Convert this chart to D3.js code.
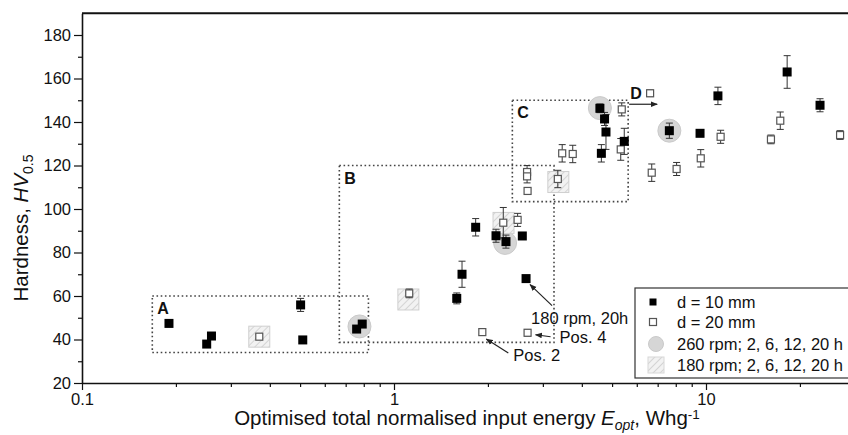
<!DOCTYPE html>
<html><head><meta charset="utf-8">
<script src="https://cdn.jsdelivr.net/npm/d3@7"></script>
<style>
html,body{margin:0;padding:0;background:#fff;overflow:hidden;}
svg{display:block;font-family:"Liberation Sans",Arial,sans-serif;}
</style></head>
<body>
<svg id="chart" width="848" height="435"></svg>
<script>
// ---- data ----
const d10X   = [0.19, 0.251, 0.26, 0.502, 0.51, 0.759, 0.791, 1.589, 1.652, 1.827, 2.123, 2.285, 2.578, 2.65, 4.57, 4.73, 4.78, 4.62, 5.47, 7.63, 9.57, 10.92, 18.2, 23.2];
const d10Y   = [47.4, 37.9, 41.6, 55.9, 39.8, 44.8, 47.1, 58.9, 70.0, 91.6, 87.7, 85.0, 87.6, 68.0, 146.3, 141.4, 135.4, 125.6, 131.1, 136.0, 134.8, 152.0, 163.0, 147.7];
const d10Err = [1.5, 0, 0, 3, 0, 0, 0, 2.5, 6, 4, 3, 3, 0, 0, 2, 3, 8, 4, 6, 3.5, 0, 4, 7.5, 3];

const d20X   = [0.370, 1.119, 1.919, 2.68, 2.24, 2.49, 2.67, 2.67, 2.68, 3.35, 3.46, 3.74, 5.37, 5.33, 6.62, 6.70, 8.05, 9.62, 11.14, 16.15, 17.3, 26.9];
const d20Y   = [41.3, 61.2, 43.4, 43.1, 93.7, 95.0, 117.0, 115.0, 108.3, 113.8, 125.6, 125.3, 145.8, 127.4, 153.2, 116.7, 118.4, 123.3, 133.2, 132.0, 140.6, 134.0];
const d20Err = [1, 2, 1.5, 1.5, 7, 3, 3, 3, 0, 4, 4, 4, 3, 5, 1.5, 4, 3, 4, 3, 2, 4, 2];

const rpm260X = [0.775, 2.27, 4.57, 7.63];
const rpm260Y = [46, 84.4, 146.4, 136];
const rpm180X = [0.370, 1.112, 2.244, 3.363];
const rpm180Y = [41.3, 58.4, 93.6, 112.4];

const regionNames = ["A", "B", "C"];
const regionX0 = [0.168, 0.668, 2.395];
const regionX1 = [0.828, 3.257, 5.63];
const regionY0 = [34, 38.7, 103.4];
const regionY1 = [60, 120, 150];

const xMajor = [0.1, 1, 10];
const xMajorLabels = ["0.1", "1", "10"];
const yMajor = [20, 40, 60, 80, 100, 120, 140, 160, 180];
const legendLabels = ["d = 10 mm", "d = 20 mm", "260 rpm; 2, 6, 12, 20 h", "180 rpm; 2, 6, 12, 20 h"];

// ---- layout ----
const svg = d3.select("#chart");
const L = 82, B = 383;
const x = d3.scaleLog().domain([0.1, 100]).range([L, L + 3 * 312]);
const y = d3.scaleLinear().domain([20, 190]).range([B, B - 170 * 2.175]);
const T = y(190);

const defs = svg.append("defs");
const pat = defs.append("pattern").attr("id", "hatch").attr("patternUnits", "userSpaceOnUse")
  .attr("width", 5).attr("height", 5).attr("patternTransform", "rotate(45)");
pat.append("rect").attr("width", 5).attr("height", 5).attr("fill", "#f2f2f2");
pat.append("line").attr("x1", 0).attr("y1", 0).attr("x2", 0).attr("y2", 5).attr("stroke", "#c4c4c4").attr("stroke-width", 1.3);
defs.append("marker").attr("id", "arr").attr("viewBox", "0 0 10 10").attr("refX", 9).attr("refY", 5)
  .attr("markerWidth", 7).attr("markerHeight", 7).attr("orient", "auto-start-reverse").attr("markerUnits", "userSpaceOnUse")
  .append("path").attr("d", "M0,1 L10,5 L0,9 Z").attr("fill", "#222");

// regions
const g = svg.append("g");
regionNames.forEach((n, i) => {
  g.append("rect").attr("x", x(regionX0[i])).attr("y", y(regionY1[i]))
    .attr("width", x(regionX1[i]) - x(regionX0[i])).attr("height", y(regionY0[i]) - y(regionY1[i]))
    .attr("fill", "none").attr("stroke", "#444").attr("stroke-width", 1.6).attr("stroke-dasharray", "1.6 2.6");
  g.append("text").attr("x", x(regionX0[i]) + 5).attr("y", y(regionY1[i]) + 18)
    .attr("font-size", 16).attr("font-weight", "bold").attr("fill", "#111").text(n);
});
// D label + arrow
g.append("text").attr("x", x(regionX1[2]) + 2).attr("y", y(regionY1[2]) - 1)
  .attr("font-size", 16).attr("font-weight", "bold").attr("fill", "#111").text("D");
g.append("line").attr("x1", x(regionX1[2]) + 1).attr("y1", y(regionY1[2]) + 4)
  .attr("x2", x(regionX1[2]) + 29).attr("y2", y(regionY1[2]) + 4)
  .attr("stroke", "#222").attr("stroke-width", 1.2).attr("marker-end", "url(#arr)");

// 260 rpm circles
g.selectAll(".c260").data(rpm260X).join("circle")
  .attr("cx", d => x(d)).attr("cy", (d, i) => y(rpm260Y[i])).attr("r", 11.5)
  .attr("fill", "#d6d6d6").attr("stroke", "#cacaca");
// 180 rpm hatched squares
g.selectAll(".h180").data(rpm180X).join("rect")
  .attr("x", d => x(d) - 10.5).attr("y", (d, i) => y(rpm180Y[i]) - 10.5).attr("width", 21).attr("height", 21)
  .attr("fill", "url(#hatch)").attr("stroke", "#cfcfcf").attr("stroke-width", 1);

function errBars(xs, ys, es) {
  xs.forEach((xv, i) => {
    if (!es[i]) return;
    const cx = x(xv), y0 = y(ys[i] - es[i]), y1 = y(ys[i] + es[i]);
    g.append("line").attr("x1", cx).attr("x2", cx).attr("y1", y0).attr("y2", y1).attr("stroke", "#333").attr("stroke-width", 1);
    [y0, y1].forEach(yy => g.append("line").attr("x1", cx - 3.5).attr("x2", cx + 3.5).attr("y1", yy).attr("y2", yy).attr("stroke", "#333").attr("stroke-width", 1));
  });
}
errBars(d20X, d20Y, d20Err);
errBars(d10X, d10Y, d10Err);

// open squares
g.selectAll(".o20").data(d20X).join("rect")
  .attr("x", d => x(d) - 3.5).attr("y", (d, i) => y(d20Y[i]) - 3.5).attr("width", 7).attr("height", 7)
  .attr("fill", "#fff").attr("stroke", "#555").attr("stroke-width", 1.2);
// filled squares
g.selectAll(".f10").data(d10X).join("rect")
  .attr("x", d => x(d) - 4.5).attr("y", (d, i) => y(d10Y[i]) - 4.5).attr("width", 9).attr("height", 9)
  .attr("fill", "#000");

// annotations
function arrow(x1, y1, x2, y2) {
  g.append("line").attr("x1", x1).attr("y1", y1).attr("x2", x2).attr("y2", y2)
    .attr("stroke", "#222").attr("stroke-width", 1.2).attr("marker-end", "url(#arr)");
}
const p180 = [x(d10X[13]), y(d10Y[13])];
arrow(p180[0] + 26, p180[1] + 27, p180[0] + 4, p180[1] + 6);
g.append("text").attr("x", p180[0] + 5).attr("y", p180[1] + 45).attr("font-size", 16.5).attr("fill", "#111").text("180 rpm, 20h");
const pos4 = [x(d20X[3]), y(d20Y[3])];
arrow(pos4[0] + 23, pos4[1] + 4, pos4[0] + 8, pos4[1] + 2);
g.append("text").attr("x", pos4[0] + 32).attr("y", pos4[1] + 10).attr("font-size", 16.5).attr("fill", "#111").text("Pos. 4");
const pos2 = [x(d20X[2]), y(d20Y[2])];
arrow(pos2[0] + 26, pos2[1] + 21, pos2[0] + 4, pos2[1] + 7);
g.append("text").attr("x", pos2[0] + 31).attr("y", pos2[1] + 29).attr("font-size", 16.5).attr("fill", "#111").text("Pos. 2");

// axes
const fs = 16.5;
svg.append("g").attr("transform", `translate(0,${B})`)
  .call(d3.axisBottom(x).tickValues(xMajor).tickFormat((d, i) => xMajorLabels[i]).tickSize(7).tickSizeOuter(0).tickPadding(3));
const xMinor = [];
[0.1, 1, 10].forEach(dec => { for (let k = 2; k <= 9; k++) xMinor.push(dec * k); });
svg.append("g").attr("transform", `translate(0,${B})`)
  .call(d3.axisBottom(x).tickValues(xMinor).tickFormat("").tickSize(4).tickSizeOuter(0))
  .select(".domain").remove();
svg.append("g").attr("transform", `translate(${L},0)`)
  .call(d3.axisLeft(y).tickValues(yMajor).tickSize(8).tickSizeOuter(0).tickPadding(3));
svg.append("g").attr("transform", `translate(${L},0)`)
  .call(d3.axisLeft(y).tickValues(d3.range(30, 180, 20)).tickFormat("").tickSize(4).tickSizeOuter(0))
  .select(".domain").remove();
svg.selectAll(".tick line").attr("stroke", "#111").attr("stroke-width", 1.2);
svg.selectAll(".domain").attr("stroke", "#111").attr("stroke-width", 1.6);
svg.selectAll(".tick text").attr("font-size", fs).attr("fill", "#111").attr("font-family", "'Liberation Sans',Arial,sans-serif");
svg.append("line").attr("x1", L).attr("x2", 848).attr("y1", T).attr("y2", T).attr("stroke", "#111").attr("stroke-width", 1.8);

// axis titles
const xt = svg.append("text").attr("x", 467).attr("y", 425).attr("text-anchor", "middle").attr("font-size", 20.5).attr("fill", "#111");
xt.append("tspan").text("Optimised total normalised input energy ");
xt.append("tspan").attr("font-style", "italic").text("E");
xt.append("tspan").attr("font-style", "italic").attr("font-size", 14).attr("dy", 5).text("opt");
xt.append("tspan").attr("dy", -5).text(", Whg");
xt.append("tspan").attr("font-size", 13.5).attr("dy", -6).text("-1");
const yt = svg.append("text").attr("transform", "translate(28,228) rotate(-90)").attr("text-anchor", "middle").attr("font-size", 20.5).attr("fill", "#111");
yt.append("tspan").text("Hardness, ");
yt.append("tspan").attr("font-style", "italic").text("HV");
yt.append("tspan").attr("font-size", 14).attr("dy", 5).text("0.5");

// legend
const lg = svg.append("g");
lg.append("rect").attr("x", 635).attr("y", 288).attr("width", 240).attr("height", 90).attr("fill", "#fff").attr("stroke", "#333").attr("stroke-width", 1.2);
const ly = [302, 322, 344, 365];
lg.append("rect").attr("x", 649.5).attr("y", ly[0] - 3.5).attr("width", 7).attr("height", 7).attr("fill", "#000");
lg.append("rect").attr("x", 649.5).attr("y", ly[1] - 3.5).attr("width", 7).attr("height", 7).attr("fill", "#fff").attr("stroke", "#555").attr("stroke-width", 1.2);
lg.append("circle").attr("cx", 656).attr("cy", ly[2]).attr("r", 7.5).attr("fill", "#d6d6d6").attr("stroke", "#cacaca");
lg.append("rect").attr("x", 648).attr("y", ly[3] - 8).attr("width", 16).attr("height", 16).attr("fill", "url(#hatch)").attr("stroke", "#d8d8d8");
legendLabels.forEach((t, i) => {
  lg.append("text").attr("x", 677).attr("y", ly[i] + 6).attr("font-size", 16.5).attr("fill", "#111").text(t);
});
</script>
</body></html>
